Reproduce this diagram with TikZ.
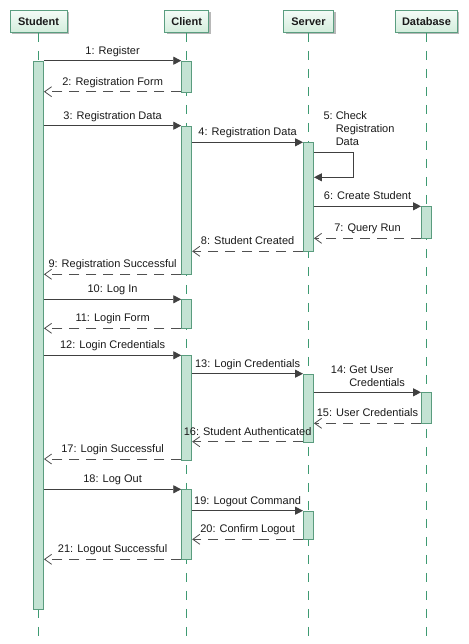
\documentclass[tikz,border=0pt]{standalone}
\usepackage{fontspec}
\setmainfont{Liberation Sans}
\usetikzlibrary{arrows.meta,shadows}
\definecolor{hdrborder}{HTML}{5A9E80}
\definecolor{hdrtop}{HTML}{F4FBF7}
\definecolor{hdrbot}{HTML}{D3EDDC}
\definecolor{actfill}{HTML}{C3E3D3}
\definecolor{actborder}{HTML}{5A9C7E}
\definecolor{lifeline}{HTML}{3E9A72}
\definecolor{msgcol}{HTML}{404040}
\definecolor{retcol}{HTML}{505050}
\definecolor{txt}{HTML}{1A1A1A}
\begin{document}
\begin{tikzpicture}[x=1pt,y=-1pt,
  every node/.style={font=\fontsize{11}{12.7}\selectfont, text=txt},
  header/.style={draw=hdrborder, line width=0.9pt, top color=hdrtop, bottom color=hdrbot,
    minimum height=22pt, inner sep=0pt, anchor=north, font=\fontsize{11}{12.7}\selectfont\bfseries,
    drop shadow={shadow xshift=2pt, shadow yshift=-2pt, fill=black!28, opacity=1}},
  act/.style={draw=actborder, fill=actfill, line width=0.9pt, minimum width=10pt, inner sep=0pt, anchor=north},
  life/.style={draw=lifeline, line width=0.9pt, dash pattern=on 9pt off 9pt},
  call/.style={draw=msgcol, line width=0.9pt, -{Triangle[length=8pt,width=8pt]}},
  ret/.style={draw=retcol, line width=0.8pt, dash pattern=on 10pt off 7pt, -{Straight Barb[length=7pt,width=10pt]}},
  lbl/.style={anchor=base, inner sep=0pt, yshift=6.5pt}
]
\fill[white] (0,0) rectangle (468,644);
\useasboundingbox (0,0) rectangle (468,644);

% headers
\node[header, minimum width=57pt] (hS) at (38.5,10) {Student};
\node[header, minimum width=44pt] (hC) at (186.7,10) {Client};
\node[header, minimum width=50pt] (hV) at (308.5,10) {Server};
\node[header, minimum width=61.6pt] (hD) at (426.5,10) {Database};

\coordinate (bottom) at (0,644);
\draw[life] (hS.south) -- (hS.south |- bottom);
\draw[life] (hC.south) -- (hC.south |- bottom);
\draw[life] (hV.south) -- (hV.south |- bottom);
\draw[life] (hD.south) -- (hD.south |- bottom);

% activations
\node[act, minimum height=548.6pt] (aS) at (38.5,60.7) {};
\node[act, minimum height=31pt] (aC1) at (186.7,60.7) {};
\node[act, minimum height=148.6pt] (aC2) at (186.7,125.7) {};
\node[act, minimum height=29pt] (aC3) at (186.7,299.3) {};
\node[act, minimum height=104.5pt] (aC4) at (186.7,355.3) {};
\node[act, minimum height=70pt] (aC5) at (186.7,489.3) {};
\node[act, minimum height=109pt] (aV1) at (308.5,142.3) {};
\node[act, minimum height=68pt] (aV2) at (308.5,373.7) {};
\node[act, minimum height=28.6pt] (aV3) at (308.5,510.7) {};
\node[act, minimum height=32pt] (aD1) at (426.5,206.3) {};
\node[act, minimum height=31pt] (aD2) at (426.5,392.3) {};

% message rows
\coordinate (y1) at (0,60.7);
\coordinate (y2) at (0,91.7);
\coordinate (y3) at (0,125.7);
\coordinate (y4) at (0,142.3);
\coordinate (y5a) at (0,152.3);
\coordinate (y5b) at (0,177.3);
\coordinate (y6) at (0,206.3);
\coordinate (y7) at (0,238.3);
\coordinate (y8) at (0,251.3);
\coordinate (y9) at (0,274.3);
\coordinate (y10) at (0,299.3);
\coordinate (y11) at (0,328.3);
\coordinate (y12) at (0,355.3);
\coordinate (y13) at (0,373.7);
\coordinate (y14) at (0,392.3);
\coordinate (y15) at (0,423.3);
\coordinate (y16) at (0,441.7);
\coordinate (y17) at (0,459);
\coordinate (y18) at (0,489.3);
\coordinate (y19) at (0,510.7);
\coordinate (y20) at (0,539.3);
\coordinate (y21) at (0,559.3);
\coordinate (loop) at (353.3,0);

\draw[call] (aS.east |- y1) -- node[lbl] (l1) {1: Register} (aC1.west |- y1);
\draw[ret] (aC1.west |- y2) -- node[lbl] (l2) {2: Registration Form} (aS.east |- y2);
\draw[call] (aS.east |- y3) -- node[lbl] (l3) {3: Registration Data} (aC2.west |- y3);
\draw[call] (aC2.east |- y4) -- node[lbl] (l4) {4: Registration Data} (aV1.west |- y4);
\draw[call] (aV1.east |- y5a) -- (loop |- y5a) -- (loop |- y5b) -- (aV1.east |- y5b);
\node[anchor=base west, inner sep=0pt] (l5) at (323.3,120)
  {\begin{tabular}[t]{@{}l@{\hspace{3.1pt}}l@{}}5:&Check\\&Registration\\&Data\end{tabular}};
\draw[call] (aV1.east |- y6) -- node[lbl] (l6) {6: Create Student} (aD1.west |- y6);
\draw[ret] (aD1.west |- y7) -- node[lbl] (l7) {7: Query Run} (aV1.east |- y7);
\draw[ret] (aV1.west |- y8) -- node[lbl] (l8) {8: Student Created} (aC2.east |- y8);
\draw[ret] (aC2.west |- y9) -- node[lbl] (l9) {9: Registration Successful} (aS.east |- y9);
\draw[call] (aS.east |- y10) -- node[lbl] (l10) {10: Log In} (aC3.west |- y10);
\draw[ret] (aC3.west |- y11) -- node[lbl] (l11) {11: Login Form} (aS.east |- y11);
\draw[call] (aS.east |- y12) -- node[lbl] (l12) {12: Login Credentials} (aC4.west |- y12);
\draw[call] (aC4.east |- y13) -- node[lbl] (l13) {13: Login Credentials} (aV2.west |- y13);
\draw[call] (aV2.east |- y14) -- (aD2.west |- y14);
\node[anchor=base west, inner sep=0pt] (l14) at (330.7,373.3)
  {\begin{tabular}[t]{@{}l@{\hspace{3.1pt}}l@{}}14:&Get User\\&Credentials\end{tabular}};
\draw[ret] (aD2.west |- y15) -- node[lbl] (l15) {15: User Credentials} (aV2.east |- y15);
\draw[ret] (aV2.west |- y16) -- node[lbl] (l16) {16: Student Authenticated} (aC4.east |- y16);
\draw[ret] (aC4.west |- y17) -- node[lbl] (l17) {17: Login Successful} (aS.east |- y17);
\draw[call] (aS.east |- y18) -- node[lbl] (l18) {18: Log Out} (aC5.west |- y18);
\draw[call] (aC5.east |- y19) -- node[lbl] (l19) {19: Logout Command} (aV3.west |- y19);
\draw[ret] (aV3.west |- y20) -- node[lbl] (l20) {20: Confirm Logout} (aC5.east |- y20);
\draw[ret] (aC5.west |- y21) -- node[lbl] (l21) {21: Logout Successful} (aS.east |- y21);
\end{tikzpicture}
\end{document}
